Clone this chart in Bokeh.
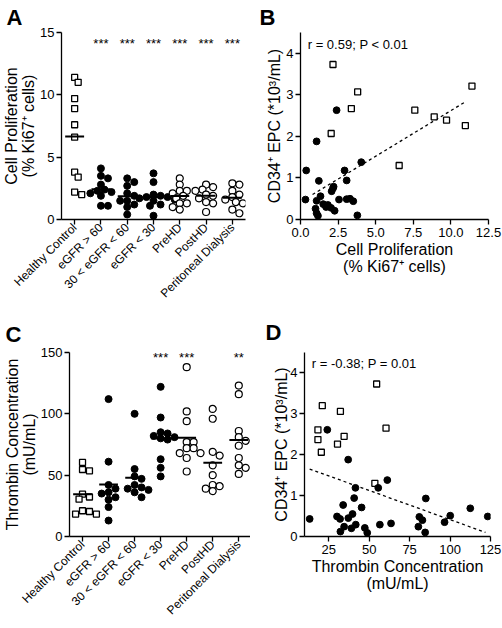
import math
import numpy as np
from bokeh.plotting import figure
from bokeh.models import Range1d, FixedTicker, Label, PrintfTickFormatter
from bokeh.layouts import row, column
from bokeh.embed import file_html
from bokeh.resources import INLINE
from bokeh.core.properties import value

FONT = "Liberation Sans"

# ---------------- data ----------------
groups = ["Healthy Control", "eGFR > 60", "30 < eGFR < 60", "eGFR < 30",
          "PreHD", "PostHD", "Peritoneal Dialysis"]
group_kind = ["square", "filled", "filled", "filled", "open", "open", "open"]

# Panel A: cell proliferation (% Ki67+ cells)
prolif_hc = [11.4, 11.0, 9.7, 8.9, 7.6, 6.6, 3.8, 3.4, 2.2, 2.0]
prolif_egfr60 = [4.1, 3.5, 3.3, 2.8, 2.4, 2.3, 2.2, 2.1, 1.9, 1.1, 1.1]
prolif_egfr30_60 = [3.3, 3.0, 2.7, 2.1, 1.9, 1.5, 1.5, 1.2, 1.0, 0.4]
prolif_egfr30 = [3.7, 3.0, 2.0, 1.9, 1.8, 1.8, 1.7, 1.6, 1.5, 1.2, 1.1, 0.3]
prolif_prehd = [3.3, 2.8, 2.3, 2.3, 2.1, 1.9, 1.7, 1.3, 1.3, 1.0, 0.8]
prolif_posthd = [2.8, 2.6, 2.4, 2.3, 2.0, 1.9, 1.7, 1.4, 1.3, 0.6]
prolif_pd = [2.9, 2.8, 2.3, 2.0, 1.8, 1.6, 1.4, 1.3, 0.8, 0.5]
prolif_sig = ["", "***", "***", "***", "***", "***", "***"]
prolif_yticks = [0, 5, 10, 15]

# Panel C: thrombin concentration (mU/mL)
thr_hc = [60.4, 54.6, 53.5, 34.5, 32.2, 30.4, 21.0, 20.4, 18.3, 18.3]
thr_egfr60 = [112, 61, 42, 39, 36, 35, 32, 30, 24, 13]
thr_egfr30_60 = [100, 55, 49, 47, 42, 40, 39, 38, 36, 32]
thr_egfr30 = [122, 97, 85, 84, 82, 81, 80, 79, 63, 56, 49]
thr_prehd = [138, 102, 94, 77, 77, 72, 72, 68, 68, 64, 53]
thr_posthd = [104, 96, 69, 66, 58, 50, 42, 41, 39, 37]
thr_pd = [123, 116, 86, 81, 78, 74, 64, 58, 56, 51]
thr_sig = ["", "", "", "***", "***", "", "**"]
thr_yticks = [0, 50, 100, 150]

# Panel B: EPC vs cell proliferation
b_hc_x = [2.16, 3.80, 3.38, 7.60, 8.89, 9.71, 10.96, 11.40, 2.04, 6.56]
b_hc_y = [3.73, 3.07, 2.67, 2.63, 2.47, 2.39, 2.26, 3.21, 2.07, 1.30]
b_pt_x = [2.40, 1.07, 4.04, 0.38, 2.93, 1.22, 3.07, 2.16, 2.20, 2.07, 0.33, 1.07, 1.33,
          2.56, 3.07, 3.29, 3.51, 1.00, 1.51, 1.82, 2.03, 2.27, 1.07, 1.16, 3.78, 1.70]
b_pt_y = [2.63, 1.88, 1.38, 1.18, 1.18, 0.93, 0.94, 0.75, 0.79, 0.68, 0.48, 0.45, 0.56,
          0.48, 0.49, 0.50, 0.44, 0.26, 0.37, 0.35, 0.28, 0.21, 0.15, 0.09, 0.10, 0.30]
b_trend_x = [0.8, 11.0]
b_trend_y = [0.60, 2.84]
b_xticks = [0, 2.5, 5, 7.5, 10, 12.5]
b_yticks = [0, 1, 2, 3, 4]
b_stat = "r = 0.59; P < 0.01"

# Panel D: EPC vs thrombin
d_hc_x = [54.6, 21.0, 32.2, 18.3, 60.4, 18.3, 34.5, 30.4, 20.4, 53.5]
d_hc_y = [3.73, 3.20, 3.06, 2.61, 2.65, 2.37, 2.45, 2.26, 2.06, 1.30]
d_pt_x = [24.1, 37.0, 61.2, 55.6, 41.5, 40.7, 85.0, 33.9, 45.3, 112.5, 13.2, 30.1, 32.0,
          39.7, 37.1, 81.0, 82.9, 100.1, 96.6, 123.3, 41.7, 34.5, 39.0, 47.3, 56.6, 63.5,
          32.2, 48.8, 80.4, 84.6]
d_pt_y = [2.61, 1.88, 1.38, 1.19, 1.19, 0.94, 0.93, 0.77, 0.71, 0.69, 0.43, 0.49, 0.43,
          0.55, 0.45, 0.48, 0.40, 0.51, 0.35, 0.49, 0.29, 0.24, 0.20, 0.21, 0.29, 0.32,
          0.12, 0.09, 0.24, 0.10]
d_trend_x = [13.2, 121.9]
d_trend_y = [1.65, 0.10]
d_xticks = [25, 50, 75, 100, 125]
d_yticks = [0, 1, 2, 3, 4]
d_stat = "r = -0.38; P = 0.01"

prolif = [prolif_hc, prolif_egfr60, prolif_egfr30_60, prolif_egfr30,
          prolif_prehd, prolif_posthd, prolif_pd]
thrombin = [thr_hc, thr_egfr60, thr_egfr30_60, thr_egfr30, thr_prehd, thr_posthd, thr_pd]


# ---------------- helpers ----------------
def style_axes(p):
    p.grid.visible = False
    p.outline_line_color = None
    for ax in p.axis:
        ax.axis_line_width = 1.3
        ax.axis_line_color = "black"
        ax.major_tick_line_width = 1.3
        ax.major_tick_line_color = "black"
        ax.major_tick_out = 5
        ax.major_tick_in = 0
        ax.minor_tick_line_color = None
        ax.major_label_text_font = FONT
        ax.major_label_text_font_size = "13px"
        ax.major_label_text_color = "black"
        ax.major_label_standoff = 2
        ax.axis_label_text_font = FONT
        ax.axis_label_text_font_size = "16px"
        ax.axis_label_text_font_style = "normal"
        ax.axis_label_text_color = "black"
        ax.axis_label_text_line_height = 1.0
        ax.axis_label_standoff = 1


def letter(p, t, offset, standoff):
    p.title.text = t
    p.title.align = "left"
    p.title.offset = offset
    p.title.standoff = standoff
    p.title.text_font = FONT
    p.title.text_font_size = "22px"
    p.title.text_font_style = "bold"
    p.title.text_color = "black"


def swarm_offsets(vals, px_per_unit, px_per_cat, diam=6.2, step=3.6):
    placed = []
    offs = []
    for v in vals:
        ypx = v * px_per_unit
        chosen = 0.0
        for k in range(0, 15):
            cands = [0.0] if k == 0 else [k * step, -k * step]
            hit = None
            for c in cands:
                if all((c - px) ** 2 + (ypx - py) ** 2 >= diam ** 2 for px, py in placed):
                    hit = c
                    break
            if hit is not None:
                chosen = hit
                break
        placed.append((chosen, ypx))
        offs.append(chosen / px_per_cat)
    return offs


def dot_panel(data, sig, y_end, y_ticks, sig_y, ylabel, width, height,
              fl, fr, ft, fb, x_end):
    p = figure(width=width, height=height, output_backend="svg", toolbar_location=None,
               x_range=Range1d(-0.5, x_end), y_range=Range1d(0, y_end),
               min_border_left=fl, min_border_right=fr, min_border_top=ft,
               min_border_bottom=fb)
    frame_w = width - fl - fr
    frame_h = height - ft - fb
    ppu = frame_h / y_end
    ppc = frame_w / (x_end + 0.5)
    for i, vals in enumerate(data):
        offs = swarm_offsets(vals, ppu, ppc)
        xs = [i + o for o in offs]
        kind = group_kind[i]
        if kind == "square":
            p.scatter(xs, vals, marker="square", size=6, fill_color="white",
                      line_color="black", line_width=1.3)
        elif kind == "filled":
            p.scatter(xs, vals, marker="circle", size=7, fill_color="black",
                      line_color="black", line_width=1)
        else:
            p.scatter(xs, vals, marker="circle", size=7, fill_color="white",
                      line_color="black", line_width=1.2)
        m = float(np.mean(vals))
        p.segment(x0=[i - 0.36], y0=[m], x1=[i + 0.36], y1=[m],
                  line_color="black", line_width=2)
        if sig[i]:
            p.text(x=[i], y=[sig_y], text=[sig[i]], text_align="center",
                   text_baseline="alphabetic", text_font=value(FONT),
                   text_font_size="13px", text_color="black")
    style_axes(p)
    p.xaxis.ticker = FixedTicker(ticks=list(range(len(groups))))
    p.xaxis.major_label_overrides = {i: g for i, g in enumerate(groups)}
    p.xaxis.major_label_orientation = math.pi / 4
    p.xaxis.major_label_text_font_size = "12px"
    p.xaxis.major_label_standoff = 1
    p.yaxis.ticker = FixedTicker(ticks=y_ticks)
    p.yaxis.axis_label = ylabel
    p.yaxis.axis_label_standoff = 0
    return p


def scatter_panel(hx, hy, px_, py_, tx, ty, stat, stat_x, stat_y, x_start, x_end,
                  xticks, yticks, xlabel, ylabel, width, height, fl, fr, ft, fb,
                  xfmt=None, ylab_standoff=0):
    p = figure(width=width, height=height, output_backend="svg", toolbar_location=None,
               x_range=Range1d(x_start, x_end), y_range=Range1d(0, 4.5),
               min_border_left=fl, min_border_right=fr, min_border_top=ft,
               min_border_bottom=fb)
    p.line(tx, ty, line_color="black", line_width=1.3, line_dash="3 3")
    p.scatter(hx, hy, marker="square", size=6, fill_color="white",
              line_color="black", line_width=1.3)
    p.scatter(px_, py_, marker="circle", size=6.8, fill_color="black",
              line_color="black", line_width=1)
    p.add_layout(Label(x=stat_x, y=stat_y, text=stat, text_font=FONT,
                       text_font_size="13px", text_baseline="middle",
                       text_align="left", text_color="black"))
    style_axes(p)
    p.xaxis.ticker = FixedTicker(ticks=xticks)
    if xfmt:
        p.xaxis.formatter = PrintfTickFormatter(format=xfmt)
    p.yaxis.ticker = FixedTicker(ticks=yticks)
    p.xaxis.axis_label = xlabel
    p.yaxis.axis_label = ylabel
    p.yaxis.axis_label_standoff = ylab_standoff
    p.xaxis.major_label_standoff = 3
    p.xaxis.axis_label_text_line_height = 1.05
    return p


# ---------------- panels ----------------
LW, RW = 250, 252
TH, BH = 308, 320

pa = dot_panel(prolif, prolif_sig, 15, prolif_yticks, 14.15,
               "Cell Proliferation\n(% Ki67\u207a cells)",
               LW, TH, 57, 5, 31, 86, 6.5)
letter(pa, "A", -55, 5)

pc = dot_panel(thrombin, thr_sig, 150, thr_yticks, 146,
               "Thrombin Concentration\n(mU/mL)",
               LW, BH, 62, 0, 39, 92, 6.45)
letter(pc, "C", -64, 11)

pb = scatter_panel(b_hc_x, b_hc_y, b_pt_x, b_pt_y, b_trend_x, b_trend_y,
                   b_stat, 0.48, 4.22, 0, 12.5, b_xticks, b_yticks,
                   "Cell Proliferation\n(% Ki67\u207a cells)",
                   "CD34\u207a EPC (*10\u00b3/mL)",
                   RW, TH, 50, 14, 31, 86, xfmt="%.1f", ylab_standoff=0)
letter(pb, "B", -41, 5)

pd_ = scatter_panel(d_hc_x, d_hc_y, d_pt_x, d_pt_y, d_trend_x, d_trend_y,
                    d_stat, 14.5, 4.24, 10, 125, d_xticks, d_yticks,
                    "Thrombin Concentration\n(mU/mL)",
                    "CD34\u207a EPC (*10\u00b3/mL)",
                    RW, BH, 54, 12, 44, 92, ylab_standoff=-3)
letter(pd_, "D", -39, 16)

layout = column(row(pa, pb), row(pc, pd_))

open("out.html", "w").write(file_html(layout, INLINE))
